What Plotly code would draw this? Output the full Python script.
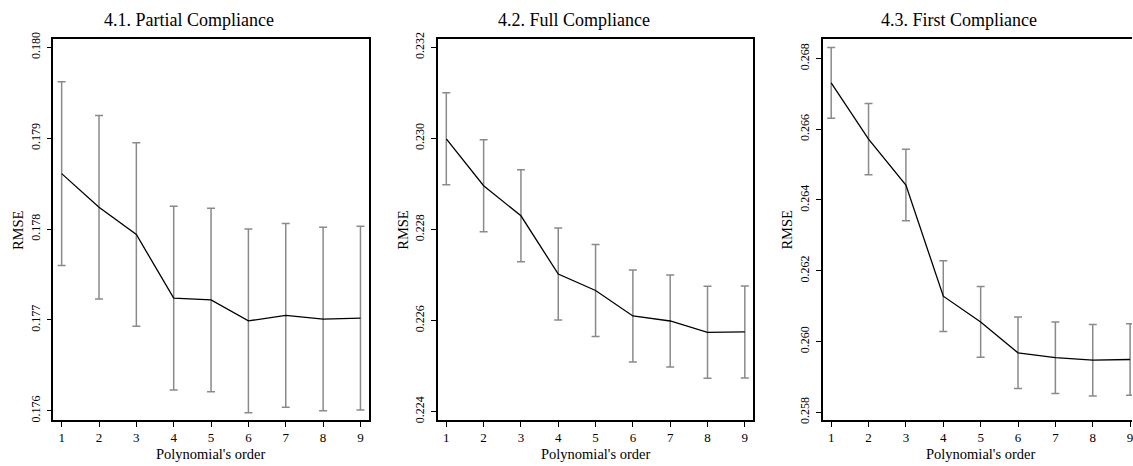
import plotly.graph_objects as go

# ---- data ----
orders = [1, 2, 3, 4, 5, 6, 7, 8, 9]

partial_rmse = [0.17861, 0.17824, 0.17794, 0.17724, 0.17722, 0.17699, 0.17705, 0.17701, 0.17702]
partial_err = [0.00101, 0.00101, 0.00101, 0.00101, 0.00101, 0.00101, 0.00101, 0.00101, 0.00101]

full_rmse = [0.22999, 0.22896, 0.22830, 0.22702, 0.22666, 0.22610, 0.22599, 0.22574, 0.22575]
full_err = [0.00101, 0.00101, 0.00101, 0.00101, 0.00101, 0.00101, 0.00101, 0.00101, 0.00101]

first_rmse = [0.26731, 0.26572, 0.26442, 0.26128, 0.26055, 0.25968, 0.25954, 0.25947, 0.25949]
first_err = [0.00100, 0.00101, 0.00101, 0.00100, 0.00100, 0.00101, 0.00101, 0.00101, 0.00101]

titles = ["4.1. Partial Compliance", "4.2. Full Compliance", "4.3. First Compliance"]
ytick_vals = [
    [0.176, 0.177, 0.178, 0.179, 0.180],
    [0.224, 0.226, 0.228, 0.230, 0.232],
    [0.258, 0.260, 0.262, 0.264, 0.266, 0.268],
]
y_ranges = [[0.175899, 0.180089], [0.223815, 0.232178], [0.257779, 0.268544]]
x_title = "Polynomial's order"
y_title = "RMSE"

# ---- layout geometry ----
W, H = 1133, 466
FONT = "Liberation Serif"
box_left = [53.3, 438.3, 823.5]
box_right = [369.3, 754.0, 1133.0]
box_top, box_bottom = 33.0, 423.0
x_ranges = [[0.775, 9.228], [0.775, 9.228], [0.775, 0.775 + (1133 - 823.5) / 37.4]]
title_centers = [188.8, 574.5, 959.7]

series = [(partial_rmse, partial_err), (full_rmse, full_err), (first_rmse, first_err)]

fig = go.Figure()
for i, (vals, errs) in enumerate(series):
    sfx = "" if i == 0 else str(i + 1)
    fig.add_trace(go.Scatter(
        x=orders, y=vals, mode="lines",
        line=dict(color="black", width=1.3),
        error_y=dict(type="data", array=errs, visible=True, color="#8a8a8a",
                     thickness=1.5, width=4),
        xaxis="x" + sfx, yaxis="y" + sfx, showlegend=False,
    ))

layout = dict(
    width=W, height=H, margin=dict(l=0, r=0, t=0, b=0),
    plot_bgcolor="white", paper_bgcolor="white",
    font=dict(family=FONT, color="black"),
    showlegend=False,
)
annotations = []
ydom = [1 - box_bottom / H, 1 - box_top / H]
for i in range(3):
    sfx = "" if i == 0 else str(i + 1)
    layout["xaxis" + sfx] = dict(
        domain=[box_left[i] / W, box_right[i] / W],
        range=x_ranges[i], anchor="y" + sfx,
        tickvals=orders, ticktext=[str(o) for o in orders],
        ticks="outside", ticklen=5, tickwidth=1, tickcolor="black",
        tickfont=dict(family=FONT, size=13, color="black"),
        ticklabeloverflow="allow",
        showline=True, linecolor="black", linewidth=1.5, mirror=True,
        showgrid=False, zeroline=False,
    )
    layout["yaxis" + sfx] = dict(
        domain=ydom, range=y_ranges[i], anchor="x" + sfx,
        tickvals=ytick_vals[i], ticktext=["%.3f" % v for v in ytick_vals[i]],
        ticks="outside", ticklen=5, tickwidth=1, tickcolor="black",
        tickangle=-90, ticklabelstandoff=2,
        tickfont=dict(family=FONT, size=12, color="black"),
        showline=True, linecolor="black", linewidth=1.5, mirror=(i < 2),
        showgrid=False, zeroline=False,
    )
    annotations.append(dict(
        text=titles[i], x=title_centers[i] / W, y=1 - 13 / H,
        xref="paper", yref="paper", xanchor="center", yanchor="middle",
        showarrow=False, font=dict(family=FONT, size=18, color="black"),
    ))
    annotations.append(dict(
        text=x_title, x=(box_left[i] + (box_right[i] if i < 2 else 1139.8)) / 2 / W,
        y=1 - 458 / H,
        xref="paper", yref="paper", xanchor="center", yanchor="middle",
        showarrow=False, font=dict(family=FONT, size=14.5, color="black"),
    ))
    annotations.append(dict(
        text=y_title, x=(box_left[i] - 35.8) / W, y=1 - 228 / H,
        xref="paper", yref="paper", xanchor="center", yanchor="middle",
        textangle=-90,
        showarrow=False, font=dict(family=FONT, size=14.5, color="black"),
    ))
layout["annotations"] = annotations
fig.update_layout(**layout)

fig.write_html("out.html")
